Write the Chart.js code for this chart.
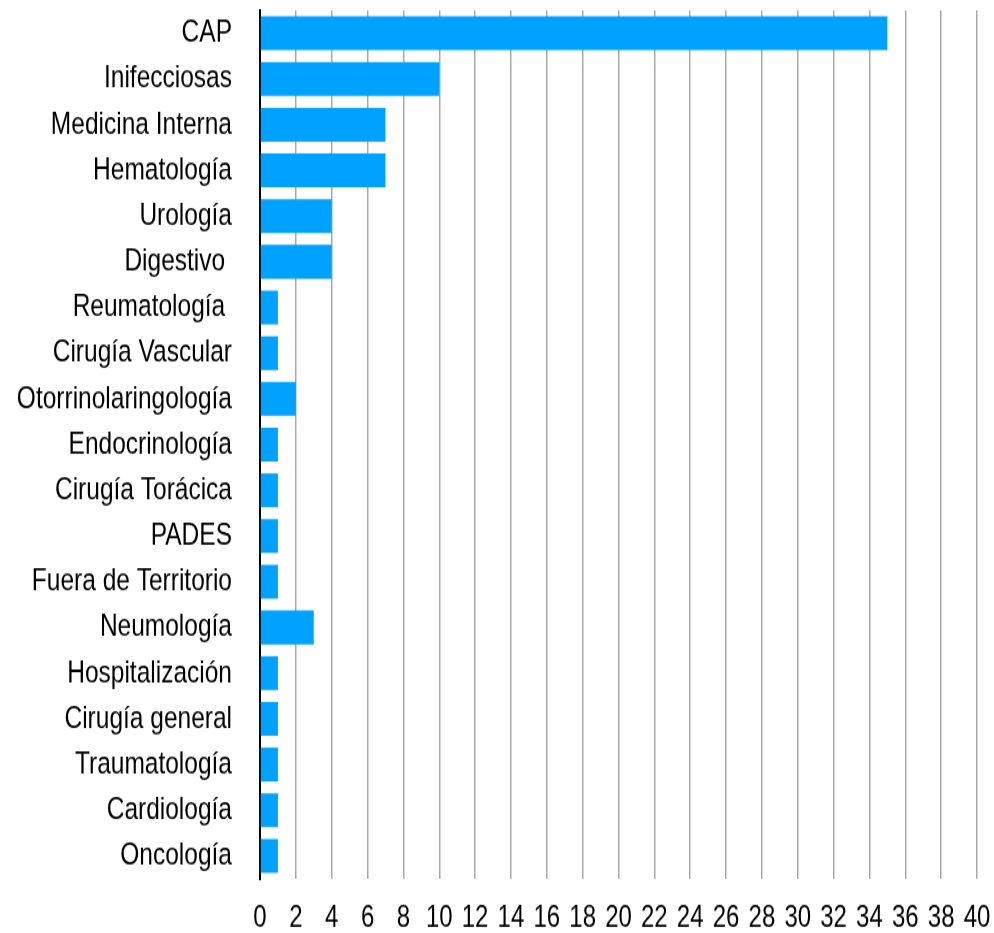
<!DOCTYPE html>
<html>
<head>
<meta charset="utf-8">
<script src="https://cdn.jsdelivr.net/npm/chart.js@4/dist/chart.umd.min.js"></script>
<style>
  html, body { margin: 0; padding: 0; background: #fff; }
  #outer { width: 994px; height: 933px; position: relative; overflow: hidden; }
  #wrap { position: absolute; left: 0; top: 0; width: 994px; height: 718px; transform: scaleY(1.3); transform-origin: 0 0; }
  canvas { display: block; }
</style>
</head>
<body>
<div id="outer"><div id="wrap"><canvas id="c" width="994" height="718"></canvas></div></div>
<script>
const categories = [
  "CAP", "Inifecciosas", "Medicina Interna", "Hematología", "Urología",
  "Digestivo ", "Reumatología ", "Cirugía Vascular", "Otorrinolaringología",
  "Endocrinología", "Cirugía Torácica", "PADES", "Fuera de Territorio",
  "Neumología", "Hospitalización", "Cirugía general", "Traumatología",
  "Cardiología", "Oncología"
];
const values = [35, 10, 7, 7, 4, 4, 1, 1, 2, 1, 1, 1, 1, 3, 1, 1, 1, 1, 1];
const xMin = 0, xMax = 40, xStep = 2;

new Chart(document.getElementById('c'), {
  type: 'bar',
  data: {
    labels: categories,
    datasets: [{
      data: values,
      backgroundColor: '#00a2ff',
      borderWidth: 0,
      barPercentage: 0.74,
      categoryPercentage: 1.0
    }]
  },
  options: {
    indexAxis: 'y',
    responsive: false,
    animation: false,
    devicePixelRatio: 1,
    layout: { padding: { top: 8, right: 17, bottom: 0, left: 0 } },
    plugins: { legend: { display: false }, tooltip: { enabled: false } },
    scales: {
      x: {
        min: xMin, max: xMax,
        ticks: {
          stepSize: xStep, autoSkip: false, maxRotation: 0,
          color: '#000', padding: 16,
          font: { family: 'Liberation Sans', size: 24 }
        },
        grid: { color: '#a9a9a9', lineWidth: 1.5, drawTicks: false },
        border: { display: false },
        afterFit: (s) => { s.height = 42; s.paddingLeft = 0; s.paddingRight = 0; }
      },
      y: {
        ticks: {
          color: '#000', padding: 28,
          font: { family: 'Liberation Sans', size: 24.5 }
        },
        grid: { display: false, drawTicks: false },
        border: { display: true, color: '#000', width: 2 },
        afterFit: (s) => { s.width = 260; s.paddingTop = 0; s.paddingBottom = 0; }
      }
    }
  }
});
</script>
</body>
</html>
